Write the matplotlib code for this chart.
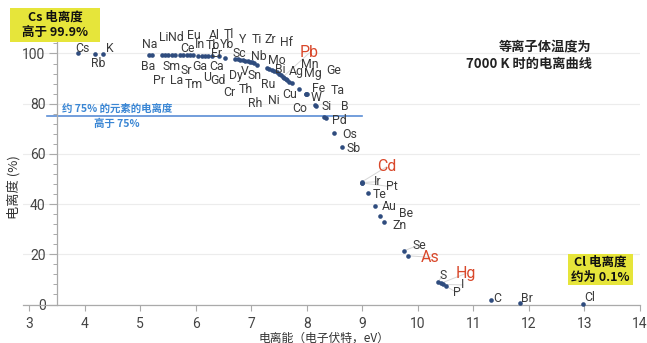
import matplotlib
matplotlib.use("Agg")
import matplotlib.pyplot as plt
from matplotlib.patches import Rectangle
from matplotlib.ticker import MultipleLocator

# ---------------- data ----------------
elements = ["Cs", "Rb", "K", "Na", "Ba", "Li", "Pr", "Nd", "La", "Ce",
            "Sm", "Eu", "Sr", "In", "Tb", "Ga", "Al", "Ca", "Tm", "Gd",
            "Er", "Yb", "U", "Y", "Tl", "Sc", "Dy", "V", "Cr", "Th",
            "Ti", "Nb", "Zr", "Hf", "Mo", "Bi", "Sn", "Ru", "Rh", "Pb",
            "Ni", "Ag", "Mn", "Mg", "Ta", "Cu", "Fe", "W", "Ge", "Co",
            "Si", "B", "Pd", "Os", "Sb", "Cd", "Ir", "Pt", "Te", "Au",
            "Be", "Zn", "Se", "As", "S", "Hg", "I", "P", "C", "Br", "Cl"]
ion_energy = [3.88, 4.19, 4.33, 5.16, 5.22, 5.39, 5.45, 5.51, 5.57, 5.63,
              5.72, 5.78, 5.84, 5.90, 5.96, 6.05, 6.11, 6.17, 6.23, 6.29,
              6.43, 6.53, 6.71, 6.76, 6.80, 6.85, 6.89, 6.94, 6.98, 7.02,
              7.06, 7.10, 7.28, 7.33, 7.38, 7.42, 7.46, 7.50, 7.54, 7.58,
              7.62, 7.65, 7.69, 7.73, 7.60, 7.87, 7.99, 8.00, 7.98, 8.15,
              8.16, 8.32, 8.34, 8.49, 8.63, 8.99, 8.99, 9.00, 9.11, 9.23,
              9.32, 9.40, 9.75, 9.83, 10.36, 10.42, 10.46, 10.51, 11.31, 11.84, 12.97]
ionization = [100.0, 99.8, 99.8, 99.6, 99.6, 99.5, 99.5, 99.5, 99.5, 99.4,
              99.4, 99.4, 99.3, 99.3, 99.3, 99.2, 99.2, 99.1, 99.1, 99.0,
              98.9, 98.2, 98.0, 97.8, 97.6, 97.4, 97.2, 97.0, 96.8, 96.5,
              96.2, 95.6, 94.1, 93.8, 93.3, 92.9, 92.5, 92.0, 91.4, 90.8,
              90.0, 89.4, 88.8, 88.3, 90.4, 85.9, 83.9, 83.7, 84.0, 79.3,
              79.2, 74.6, 74.3, 68.2, 62.9, 48.8, 48.6, 48.4, 44.3, 39.2,
              35.4, 33.0, 21.4, 19.4, 9.0, 8.5, 8.0, 7.2, 1.8, 0.7, 0.1]
highlight = ["Pb", "Cd", "As", "Hg"]

x_ticks = [3, 4, 5, 6, 7, 8, 9, 10, 11, 12, 13, 14]
y_ticks = [0, 20, 40, 60, 80, 100]
threshold = 75

# ---------------- layout (label positions, data coords) ----------------
label_pos = {
    "Cs": (3.97, 101.8), "K": (4.46, 101.8), "Rb": (4.24, 96.2),
    "Na": (5.17, 103.4), "Li": (5.42, 106.5), "Nd": (5.64, 106.5),
    "Eu": (5.96, 107.0), "Al": (6.33, 107.0), "Tl": (6.59, 107.4),
    "Y": (6.85, 105.4), "Ti": (7.10, 105.4), "Zr": (7.34, 105.6),
    "Hf": (7.64, 104.3), "Ce": (5.85, 102.0), "In": (6.08, 103.7),
    "Tb": (6.31, 103.1), "Yb": (6.56, 103.4), "Er": (6.38, 100.0),
    "Sc": (6.79, 100.0), "Nb": (7.14, 99.0), "Mo": (7.46, 97.4),
    "Pb": (8.05, 100.3), "Mn": (8.06, 95.8), "Ge": (8.48, 93.1),
    "Ba": (5.15, 95.0), "Sm": (5.57, 95.0), "Sr": (5.83, 93.4),
    "Ga": (6.07, 95.0), "Ca": (6.38, 95.0), "Bi": (7.52, 93.7),
    "Ag": (7.81, 92.8), "Mg": (8.12, 92.1), "Dy": (6.73, 91.4),
    "V": (6.89, 93.0), "Sn": (7.07, 91.4), "Pr": (5.35, 89.4),
    "La": (5.66, 89.2), "Tm": (5.97, 87.5), "U": (6.20, 90.5),
    "Gd": (6.41, 89.2), "Ru": (7.31, 87.5), "Cu": (7.70, 83.5),
    "Fe": (8.21, 86.1), "Ta": (8.55, 85.2), "Cr": (6.61, 84.4),
    "Th": (6.91, 85.7), "W": (8.17, 82.5), "Rh": (7.07, 80.2),
    "Ni": (7.40, 81.2), "Co": (7.87, 78.2), "Si": (8.36, 78.8),
    "B": (8.69, 78.8), "Pd": (8.59, 73.2), "Os": (8.77, 67.9),
    "Sb": (8.84, 62.2), "Cd": (9.44, 54.9), "Ir": (9.27, 48.9),
    "Pt": (9.53, 46.9), "Te": (9.31, 43.9), "Au": (9.49, 39.0),
    "Be": (9.79, 36.1), "Zn": (9.67, 31.3), "Se": (10.02, 23.7),
    "As": (10.23, 18.8), "Hg": (10.87, 12.4), "S": (10.45, 11.5),
    "I": (10.81, 7.8), "P": (10.71, 4.7), "C": (11.43, 2.5),
    "Br": (11.97, 2.5), "Cl": (13.10, 2.7),
}
leaders = ["Pb", "Cd", "Ir", "Pt", "Se", "As", "Hg", "S", "I", "P"]

CJK = ["Noto Sans CJK SC", "DejaVu Sans"]
LAT = ["Roboto", "DejaVu Sans"]
dot_color = "#2f4c7e"
red = "#d9482b"
yellow = "#e6e53a"
blue_line = "#5b8ed6"
blue_text = "#3a86d4"

W, H = 647, 343
fig = plt.figure(figsize=(W / 100, H / 100), dpi=100)
fig.patch.set_facecolor("white")

x0, x1 = 2.9, 14.0
y0, y1 = 0, 110
ax = fig.add_axes([23.4 / W, 38.5 / H, (640 - 23.4) / W, (304.5 - 28.4) / H])
ax.set_xlim(x0, x1)
ax.set_ylim(y0, y1)

for s in ["top", "right"]:
    ax.spines[s].set_visible(False)
ax.spines["left"].set_position(("data", 3.5))
ax.spines["left"].set_color("#aaaaaa")
ax.spines["bottom"].set_color("#aaaaaa")
ax.spines["left"].set_linewidth(0.9)
ax.spines["bottom"].set_linewidth(0.9)

ax.set_xticks(x_ticks)
ax.set_yticks(y_ticks)
ax.yaxis.set_minor_locator(MultipleLocator(4))
ax.tick_params(axis="x", direction="out", length=4, width=0.8, color="#aaaaaa",
               pad=5, labelsize=10, labelcolor="#444444")
ax.tick_params(axis="y", which="major", direction="out", length=6, width=0.8,
               color="#aaaaaa", pad=2, labelsize=10, labelcolor="#444444")
ax.tick_params(axis="y", which="minor", direction="out", length=3, width=0.7,
               color="#aaaaaa")
for lab in ax.get_xticklabels() + ax.get_yticklabels():
    lab.set_family(LAT)

ax.grid(axis="y", which="major", color="#ececec", linewidth=0.8)
ax.set_axisbelow(True)

# threshold line + text
ax.plot([3.32, 9.0], [threshold, threshold], color=blue_line, lw=1.2, zorder=2)
ax.text(4.58, 77.9, "约 75% 的元素的电离度", ha="center", va="center",
        fontsize=7.5, fontweight="bold", color=blue_text, family=CJK)
ax.text(4.58, 71.9, "高于 75%", ha="center", va="center",
        fontsize=7.5, fontweight="bold", color=blue_text, family=CJK)

# leader lines
idx = {e: i for i, e in enumerate(elements)}
for e in leaders:
    i = idx[e]
    lx, ly = label_pos[e]
    ax.plot([ion_energy[i], lx], [ionization[i], ly], color="#d6d6d6",
            lw=0.7, zorder=1)

# dots
ax.scatter(ion_energy, ionization, s=11, color=dot_color, zorder=4,
           clip_on=False, linewidths=0)

# element labels
for e in elements:
    lx, ly = label_pos[e]
    if e in highlight:
        ax.text(lx, ly, e, ha="center", va="center", fontsize=11.5,
                color=red, family=LAT, zorder=5)
    else:
        ax.text(lx, ly, e, ha="center", va="center", fontsize=8.8,
                color="#3a3a3a", family=LAT, zorder=5)

# axis labels
ax.set_xlabel("电离能（电子伏特，eV）", family=CJK, fontsize=8.5, color="#333333")
ax.xaxis.set_label_coords(0.4875, -0.097)
ax.set_ylabel("电离度 (%)", family=CJK, fontsize=9.5, color="#333333")
ax.yaxis.set_label_coords(-0.005, 0.426)

# title text
fig.text(592 / W, 1 - 55 / H, "等离子体温度为\n7000 K 时的电离曲线", ha="right",
         va="center", fontsize=9.5, fontweight="bold", color="#222222",
         family=CJK, linespacing=1.35)

# yellow boxes
def ybox(px0, py0, px1, py1, txt):
    fig.patches.append(Rectangle((px0 / W, 1 - py1 / H), (px1 - px0) / W,
                                 (py1 - py0) / H, transform=fig.transFigure,
                                 facecolor=yellow, edgecolor="none", zorder=0))
    fig.text((px0 + px1) / 2 / W, 1 - (py0 + py1) / 2 / H, txt, ha="center",
             va="center", fontsize=9, fontweight="bold", color="#111111",
             family=CJK, linespacing=1.25)

ybox(10, 8, 100, 42, "Cs 电离度\n高于 99.9%")
ybox(568, 254, 633, 285, "Cl 电离度\n约为 0.1%")

fig.savefig("out.png", dpi=100)
